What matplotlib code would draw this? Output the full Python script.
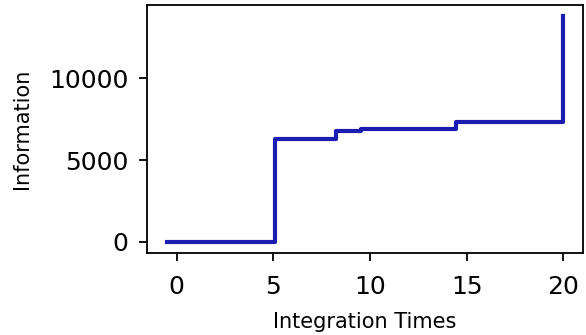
import matplotlib
matplotlib.use("Agg")
import matplotlib.pyplot as plt

# step positions and cumulative information values
times = [-0.5, 5.08, 8.25, 9.55, 14.45, 20.0]
information = [0, 6270, 6800, 6870, 7350, 13800]

fig = plt.figure(figsize=(5.86, 3.35), dpi=100)
ax = fig.add_axes([0.251, 0.245, 0.744, 0.74])

ax.plot(times, information, drawstyle='steps-post', color='#1c1cb0', linewidth=3)

ax.set_xticks([0, 5, 10, 15, 20])
ax.set_yticks([0, 5000, 10000])
ax.tick_params(labelsize=18, length=5.5, width=1.3)
ax.tick_params(axis='x', pad=10.5)
ax.tick_params(axis='y', pad=8)
for s in ax.spines.values():
    s.set_linewidth(1.3)

ax.set_xlabel('Integration Times', fontsize=15, labelpad=9)
ax.set_ylabel('Information', fontsize=15, labelpad=12)

fig.savefig('out.png', dpi=100)
